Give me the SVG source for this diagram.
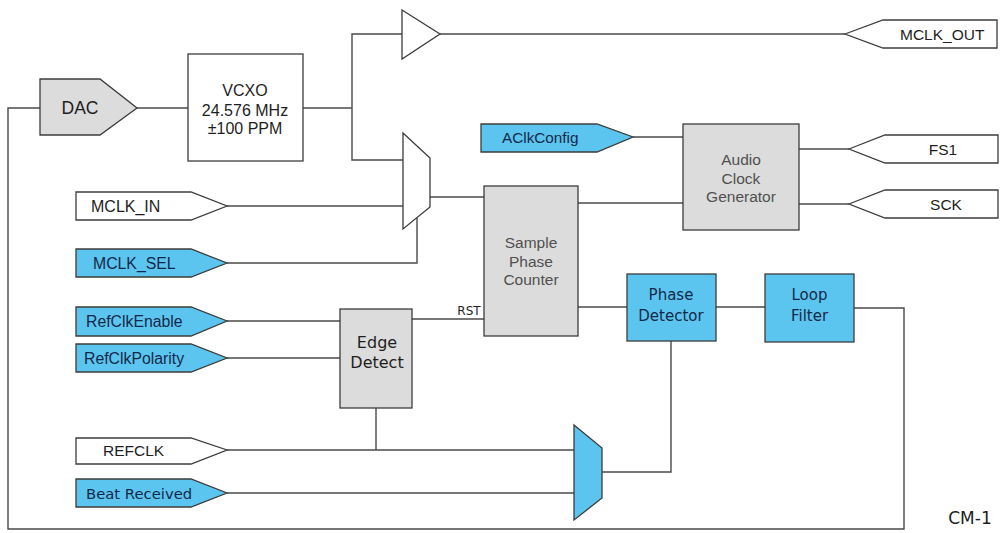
<svg xmlns="http://www.w3.org/2000/svg" width="1003" height="533" viewBox="0 0 1003 533">
  <style>
    .wire { fill: none; stroke: #4a4a4a; stroke-width: 1.4; }
    .box { stroke: #3c3c3c; stroke-width: 1.3; }
    .white { fill: #ffffff; }
    .grey { fill: #dcdcdc; }
    .blue { fill: #5cc5ef; }
    .arial { font-family: "Liberation Sans", Arial, sans-serif; fill: #1e1e1e; }
    .tahoma { font-family: "DejaVu Sans", Verdana, sans-serif; fill: #1e1e1e; }
    .dim { fill: #505050; }
    .navy { fill: #13294a; }
  </style>
  <rect width="1003" height="533" fill="#ffffff"/>

  <!-- wiring -->
  <g id="connectors">
    <polyline class="wire" points="40,108 8,108 8,529 904,529 904,308 854,308"/>
    <line class="wire" x1="137" y1="108" x2="188" y2="108"/>
    <polyline class="wire" points="303,108 352,108"/>
    <polyline class="wire" points="402,34 352,34 352,160 403,160"/>
    <line class="wire" x1="440" y1="34" x2="845" y2="34"/>
    <line class="wire" x1="227" y1="206" x2="403" y2="206"/>
    <polyline class="wire" points="227,263 417,263 417,218"/>
    <line class="wire" x1="430" y1="197" x2="484" y2="197"/>
    <line class="wire" x1="633" y1="137" x2="683" y2="137"/>
    <line class="wire" x1="799" y1="149" x2="849" y2="149"/>
    <line class="wire" x1="799" y1="204" x2="849" y2="204"/>
    <line class="wire" x1="578" y1="203" x2="683" y2="203"/>
    <line class="wire" x1="578" y1="307" x2="627" y2="307"/>
    <line class="wire" x1="716" y1="307" x2="765" y2="307"/>
    <line class="wire" x1="227" y1="321" x2="340" y2="321"/>
    <line class="wire" x1="227" y1="358" x2="340" y2="358"/>
    <line class="wire" x1="412" y1="319" x2="484" y2="319"/>
    <polyline class="wire" points="376,408 376,450"/>
    <line class="wire" x1="227" y1="450" x2="574" y2="450"/>
    <line class="wire" x1="227" y1="493" x2="574" y2="493"/>
    <polyline class="wire" points="602,472 671,472 671,341"/>
  </g>

  <g id="dac">
    <polygon class="box grey" points="40,79 100,79 137,108 100,135 40,135"/>
    <text class="arial" x="80" y="114" font-size="17.5" text-anchor="middle">DAC</text>
  </g>

  <g id="vcxo">
    <rect class="box white" x="188" y="54" width="115" height="107"/>
    <text class="arial" x="245" y="96" font-size="16" text-anchor="middle">VCXO</text>
    <text class="arial" x="245" y="115.5" font-size="16" text-anchor="middle">24.576 MHz</text>
    <text class="arial" x="245" y="134" font-size="16" text-anchor="middle">±100 PPM</text>
  </g>

  <g id="buffer">
    <polygon class="box white" points="402,10 440,34 402,59"/>
  </g>

  <g id="mclk-out">
    <polygon class="box white" points="845,34 883,20 997,20 997,48 883,48"/>
    <text class="arial" x="900" y="40" font-size="15.5">MCLK_OUT</text>
  </g>

  <g id="mclk-mux">
    <polygon class="box white" points="403,133 430,158 430,207 403,229"/>
  </g>

  <g id="mclk-in">
    <polygon class="box white" points="76,192 191,192 227,206 191,220 76,220"/>
    <text class="arial" x="91" y="211.5" font-size="16">MCLK_IN</text>
  </g>

  <g id="mclk-sel">
    <polygon class="box blue" points="76,249 191,249 227,263 191,277 76,277"/>
    <text class="arial navy" x="93" y="268.5" font-size="15.8">MCLK_SEL</text>
  </g>

  <g id="aclk-config">
    <polygon class="box blue" points="481,124 597,124 633,137 597,152 481,152"/>
    <text class="arial navy" x="502" y="142.5" font-size="15.3">AClkConfig</text>
  </g>

  <g id="audio-clock-generator">
    <rect class="box grey" x="683" y="124" width="116" height="106"/>
    <text class="arial dim" x="741" y="165" font-size="15.5" text-anchor="middle">Audio</text>
    <text class="arial dim" x="741" y="184" font-size="15.5" text-anchor="middle">Clock</text>
    <text class="arial dim" x="741" y="202" font-size="15.5" text-anchor="middle">Generator</text>
  </g>

  <g id="fs1">
    <polygon class="box white" points="849,149 885,135 998,135 998,163 885,163"/>
    <text class="arial" x="943" y="154.5" font-size="15.5" text-anchor="middle">FS1</text>
  </g>

  <g id="sck">
    <polygon class="box white" points="849,204 885,190 998,190 998,218 885,218"/>
    <text class="arial" x="946" y="209.5" font-size="15.5" text-anchor="middle">SCK</text>
  </g>

  <g id="sample-phase-counter">
    <rect class="box grey" x="484" y="186" width="94" height="150"/>
    <text class="arial dim" x="531" y="248" font-size="15.5" text-anchor="middle">Sample</text>
    <text class="arial dim" x="531" y="267" font-size="15.5" text-anchor="middle">Phase</text>
    <text class="arial dim" x="531" y="285" font-size="15.5" text-anchor="middle">Counter</text>
  </g>

  <g id="phase-detector">
    <rect class="box blue" x="627" y="274" width="89" height="67"/>
    <text class="tahoma navy" x="671" y="299.5" font-size="15" text-anchor="middle">Phase</text>
    <text class="tahoma navy" x="671" y="320.5" font-size="15" text-anchor="middle">Detector</text>
  </g>

  <g id="loop-filter">
    <rect class="box blue" x="765" y="274" width="89" height="68"/>
    <text class="tahoma navy" x="809.5" y="300" font-size="15" text-anchor="middle">Loop</text>
    <text class="tahoma navy" x="809.5" y="321" font-size="15" text-anchor="middle">Filter</text>
  </g>

  <g id="ref-clk-enable">
    <polygon class="box blue" points="76,307 191,307 227,321 191,336 76,336"/>
    <text class="arial navy" x="86" y="326.5" font-size="15.8">RefClkEnable</text>
  </g>

  <g id="ref-clk-polarity">
    <polygon class="box blue" points="76,344 191,344 227,358 191,372 76,372"/>
    <text class="arial navy" x="84" y="363.5" font-size="15.8">RefClkPolarity</text>
  </g>

  <g id="edge-detect">
    <rect class="box grey" x="340" y="309" width="72" height="99"/>
    <text class="tahoma" x="377" y="347.5" font-size="16" text-anchor="middle">Edge</text>
    <text class="tahoma" x="377" y="368" font-size="16" text-anchor="middle">Detect</text>
  </g>

  <g id="rst-label">
    <text class="tahoma" x="469" y="314.5" font-size="12" text-anchor="middle">RST</text>
  </g>

  <g id="refclk">
    <polygon class="box white" points="76,438 191,438 227,450 191,464 76,464"/>
    <text class="arial" x="103" y="455.5" font-size="15.5">REFCLK</text>
  </g>

  <g id="beat-received">
    <polygon class="box blue" points="76,479 191,479 227,493 191,507 76,507"/>
    <text class="tahoma navy" x="86" y="498.5" font-size="14.8">Beat Received</text>
  </g>

  <g id="ref-mux">
    <polygon class="box blue" points="574,425 602,448 602,498 574,520"/>
  </g>

  <g id="figure-tag">
    <text class="tahoma" x="970" y="524" font-size="17" text-anchor="middle">CM-1</text>
  </g>
</svg>
